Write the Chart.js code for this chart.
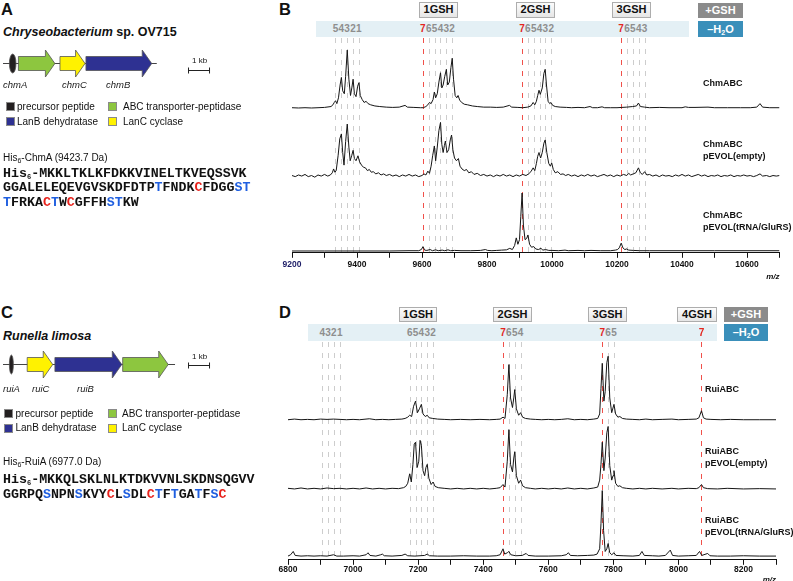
<!DOCTYPE html>
<html>
<head>
<meta charset="utf-8">
<script src="https://cdn.jsdelivr.net/npm/chart.js@4.4.1/dist/chart.umd.min.js"></script>
<style>
  body { margin: 0; }
  #fig { position: relative; width: 793px; height: 581px; overflow: hidden; background: #fff;
         font-family: "Liberation Sans", Arial, sans-serif; color: #111; }
  #fig div, #fig canvas { position: absolute; }
  .t { white-space: nowrap; line-height: 1; }
  .plab { font-weight: bold; font-size: 16.5px; }
  .org { font-weight: bold; font-size: 12.5px; }
  .gene { font-style: italic; font-size: 9.5px; color: #222; }
  .kb { font-size: 8px; }
  .leg { font-size: 10px; }
  .sw { width: 7px; height: 7px; border: 1px solid #8a8a8a; }
  .mass { font-size: 10px; }
  .mass sub, .seq sub { font-size: 7px; vertical-align: -2px; line-height: 0; }
  .seq { font-family: "Liberation Mono", "Courier New", monospace; font-weight: bold; font-size: 13.3px; }
  .b { color: #1f5fe0; } .r { color: #e8221c; }
  .box { border: 1px solid #adadad; background: linear-gradient(#fcfcfc, #e6e6e6); font-weight: bold;
         font-size: 11px; text-align: center; box-sizing: border-box; line-height: 13px; }
  .gsh { background: #8b8b8b; color: #fff; font-weight: bold; font-size: 11px; text-align: center; line-height: 15px; }
  .h2o { background: #3a8fba; color: #fff; font-weight: bold; font-size: 11px; text-align: center; line-height: 16px; }
  .h2o sub { font-size: 7px; vertical-align: -2px; line-height: 0; }
  .band { background: #e4f0f5; }
  .dig { font-weight: bold; font-size: 10px; color: #8e8e8e; transform: translateX(-50%); }
  .dig.red { color: #e3261f; }
  .lab { font-weight: bold; font-size: 9px; line-height: 11.5px; white-space: nowrap; }
</style>
</head>
<body>
<div id="fig">
  <!-- panel A -->
  <div class="t plab" style="left:1px;top:0.6px">A</div>
  <div class="t org" style="left:3px;top:26.3px"><i>Chryseobacterium</i> sp. OV715</div>
  <canvas id="gA" width="220" height="36" style="left:3px;top:45px"></canvas>
  <div class="t kb" style="left:192px;top:56.5px">1 kb</div>
  <div class="t gene" style="left:3px;top:80.3px">chmA</div>
  <div class="t gene" style="left:62px;top:80.3px">chmC</div>
  <div class="t gene" style="left:106px;top:80.3px">chmB</div>
  <div class="sw" style="left:6px;top:102px;background:#231f20"></div>
  <div class="t leg" style="left:17px;top:101.5px">precursor peptide</div>
  <div class="sw" style="left:108px;top:102px;background:#8dc63f"></div>
  <div class="t leg" style="left:123px;top:101.5px">ABC transporter-peptidase</div>
  <div class="sw" style="left:6px;top:117px;background:#2e3192"></div>
  <div class="t leg" style="left:17px;top:116.5px">LanB dehydratase</div>
  <div class="sw" style="left:108px;top:117px;background:#fff200"></div>
  <div class="t leg" style="left:123px;top:116.5px">LanC cyclase</div>
  <div class="t mass" style="left:3px;top:153.3px">His<sub>6</sub>-ChmA (9423.7 Da)</div>
  <div class="t seq" style="left:3px;top:166.7px">His<sub>6</sub>-MKKLTKLKFDKKVINELTKVEQSSVK</div>
  <div class="t seq" style="left:3px;top:180.9px">GGALELEQEVGVSKDFDTP<span class="b">T</span>FNDK<span class="r">C</span>FDGG<span class="b">ST</span></div>
  <div class="t seq" style="left:3px;top:195.9px"><span class="b">T</span>FRKA<span class="r">C</span><span class="b">T</span>W<span class="r">C</span>GFFH<span class="b">ST</span>KW</div>

  <!-- panel C -->
  <div class="t plab" style="left:1px;top:304.3px">C</div>
  <div class="t org" style="left:3px;top:330.1px"><i>Runella limosa</i></div>
  <canvas id="gC" width="220" height="36" style="left:3px;top:346px"></canvas>
  <div class="t kb" style="left:192px;top:353px">1 kb</div>
  <div class="t gene" style="left:3px;top:383.5px">ruiA</div>
  <div class="t gene" style="left:32px;top:383.5px">ruiC</div>
  <div class="t gene" style="left:77px;top:383.5px">ruiB</div>
  <div class="sw" style="left:4px;top:409px;background:#231f20"></div>
  <div class="t leg" style="left:15.5px;top:408.7px">precursor peptide</div>
  <div class="sw" style="left:108px;top:409px;background:#8dc63f"></div>
  <div class="t leg" style="left:122px;top:408.7px">ABC transporter-peptidase</div>
  <div class="sw" style="left:4px;top:423.5px;background:#2e3192"></div>
  <div class="t leg" style="left:15.5px;top:423px">LanB dehydratase</div>
  <div class="sw" style="left:108px;top:423.5px;background:#fff200"></div>
  <div class="t leg" style="left:122px;top:423px">LanC cyclase</div>
  <div class="t mass" style="left:3px;top:457px">His<sub>6</sub>-RuiA (6977.0 Da)</div>
  <div class="t seq" style="left:3px;top:473.4px">His<sub>6</sub>-MKKQLSKLNLKTDKVVNLSKDNSQGVV</div>
  <div class="t seq" style="left:3px;top:488.4px">GGRPQ<span class="b">S</span>NPN<span class="b">S</span>KVY<span class="r">C</span>L<span class="b">S</span>DL<span class="r">C</span><span class="b">T</span>F<span class="b">T</span>GA<span class="b">T</span>F<span class="b">S</span><span class="r">C</span></div>

  <!-- panel B headers -->
  <div class="t plab" style="left:279px;top:0.8px">B</div>
  <div class="box" style="left:419px;top:2px;width:39px;height:16px">1GSH</div>
  <div class="box" style="left:516px;top:2px;width:39px;height:16px">2GSH</div>
  <div class="box" style="left:612px;top:2px;width:39px;height:16px">3GSH</div>
  <div class="gsh" style="left:698px;top:3px;width:45px;height:15px">+GSH</div>
  <div class="band" style="left:316px;top:21px;width:373px;height:16px"></div>
  <div class="h2o" style="left:698px;top:21px;width:45px;height:16px">–H<sub>2</sub>O</div>
  <canvas id="chB" width="513" height="245" style="left:280px;top:36px"></canvas>
  <div class="lab" style="left:703px;top:78.3px">ChmABC</div>
  <div class="lab" style="left:703px;top:139.3px">ChmABC<br>pEVOL(empty)</div>
  <div class="lab" style="left:703px;top:210.3px">ChmABC<br>pEVOL(tRNA/GluRS)</div>

  <!-- panel D headers -->
  <div class="t plab" style="left:279px;top:303.8px">D</div>
  <div class="box" style="left:399px;top:307px;width:38px;height:15px;line-height:12px">1GSH</div>
  <div class="box" style="left:493px;top:307px;width:39px;height:15px;line-height:12px">2GSH</div>
  <div class="box" style="left:588px;top:307px;width:39px;height:15px;line-height:12px">3GSH</div>
  <div class="box" style="left:677px;top:307px;width:40px;height:15px;line-height:12px">4GSH</div>
  <div class="gsh" style="left:724px;top:307px;width:44px;height:15px">+GSH</div>
  <div class="band" style="left:308px;top:324px;width:409px;height:17px"></div>
  <div class="h2o" style="left:724px;top:324px;width:44px;height:17px;line-height:17px">–H<sub>2</sub>O</div>
  <canvas id="chD" width="517" height="244" style="left:276px;top:340px"></canvas>
  <div class="lab" style="left:705px;top:384.3px">RuiABC</div>
  <div class="lab" style="left:705px;top:446.3px">RuiABC<br>pEVOL(empty)</div>
  <div class="lab" style="left:705px;top:515.3px">RuiABC<br>pEVOL(tRNA/GluRS)</div>
</div>

<script>
Chart.defaults.font.family = '"Liberation Sans", Arial, sans-serif';
Chart.defaults.color = '#111';

// gene maps, kb from the left end of the drawn locus
const chmGeneStart = [0.29, 0.70, 2.59, 3.77];
const chmGeneEnd   = [0.59, 2.36, 3.73, 6.76];
const chmGeneRole  = ['pre', 'abc', 'lanc', 'lanb'];
const ruiGeneStart = [0.29, 1.10, 2.36, 5.44];
const ruiGeneEnd   = [0.47, 2.26, 5.40, 7.51];
const ruiGeneRole  = ['pre', 'lanc', 'lanb', 'abc'];

// H2O-loss / GSH-adduct marker lines (m/z) and the digit shown above each
const chmMarkMz = [9333.7, 9351.7, 9369.7, 9387.7, 9405.7,
                   9602.7, 9620.7, 9638.7, 9656.7, 9674.7, 9692.7,
                   9907.7, 9925.7, 9943.7, 9961.7, 9979.7, 9997.7,
                   10212.7, 10230.7, 10248.7, 10266.7, 10284.7];
const chmMarkLabel = ['5','4','3','2','1', '7','6','5','4','3','2', '7','6','5','4','3','2', '7','6','5','4','3'];
const ruiMarkMz = [6905, 6923, 6941, 6959,
                   7174, 7192, 7210, 7228, 7246,
                   7461, 7479, 7497, 7515,
                   7766, 7784, 7802,
                   8071];
const ruiMarkLabel = ['4','3','2','1', '6','5','4','3','2', '7','6','5','4', '7','6','5', '7'];

// MALDI-TOF traces, [m/z, relative intensity %]
const chmABC = [[9200,1],[9220,0.5],[9240,1],[9260,0.5],[9280,1],[9300,1.5],[9320,3],[9326,6],[9330,10],[9334,13],[9338,8],
  [9343,18],[9348,40],[9352,53],[9356,30],[9361,25],[9365,55],[9370,100],[9375,50],[9380,22],[9384,35],[9388,50],[9392,25],
  [9397,20],[9402,38],[9406,44],[9410,22],[9416,15],[9422,10],[9428,12],[9434,8],[9442,6],[9455,4],[9470,3],[9490,2],
  [9510,1.5],[9530,2],[9548,5],[9555,2],[9575,1.5],[9595,1],[9604,1],[9612,3],[9618,6],[9623,10],[9628,8],[9634,15],
  [9638,28],[9642,18],[9647,25],[9652,45],[9657,61],[9661,35],[9665,40],[9670,55],[9675,67],[9679,40],[9684,45],[9689,70],
  [9693,86],[9697,50],[9702,22],[9707,18],[9711,22],[9716,14],[9722,10],[9730,7],[9740,6],[9755,4],[9770,3],[9790,2],
  [9810,2],[9830,1.5],[9850,2],[9869,5],[9876,2],[9895,1.5],[9910,1],[9925,2],[9935,4],[9942,10],[9947,6],[9952,12],
  [9956,22],[9960,31],[9964,24],[9970,35],[9975,60],[9979,67],[9983,40],[9988,12],[9993,8],[9997,10],[10002,5],[10010,3],
  [10025,2],[10045,1.5],[10060,1],[10080,1.5],[10100,1],[10117,3],[10125,1],[10140,1],[10154,2.5],[10162,1],[10180,1],
  [10200,1],[10215,1.5],[10230,2],[10248,3],[10260,4],[10266,9],[10272,3],[10285,2],[10300,1],[10330,1.5],[10360,1],
  [10400,1],[10410,2.5],[10420,1.5],[10440,1.5],[10480,2],[10500,1],[10540,1],[10580,1],[10610,1],[10630,2],[10640,8],
  [10648,2],[10670,1],[10700,1]];
const chmEmpty = [[9200,3],[9210,1],[9220,4],[9230,2],[9240,5],[9250,1],[9260,3],[9270,0],[9280,4],[9290,2],[9300,5],
  [9310,2],[9318,4],[9324,8],[9328,15],[9332,9],[9336,12],[9342,40],[9347,70],[9352,79],[9356,45],[9360,22],[9365,65],
  [9370,97],[9375,55],[9379,30],[9384,40],[9388,49],[9392,34],[9397,30],[9403,39],[9408,28],[9414,22],[9420,18],[9426,17],
  [9432,12],[9438,14],[9444,9],[9450,10],[9458,6],[9466,8],[9474,4],[9482,6],[9490,3],[9500,5],[9510,2],[9520,4],[9530,1],
  [9540,4],[9550,2],[9560,5],[9570,2],[9580,4],[9590,1],[9600,3],[9606,6],[9612,4],[9618,11],[9623,7],[9628,20],[9633,40],
  [9638,57],[9642,30],[9647,55],[9652,85],[9657,100],[9661,60],[9665,45],[9669,58],[9672,66],[9677,45],[9682,50],[9687,68],
  [9691,77],[9695,50],[9700,35],[9706,30],[9712,34],[9717,20],[9723,15],[9730,12],[9737,14],[9744,8],[9752,10],[9760,5],
  [9770,7],[9780,3],[9790,5],[9800,2],[9810,4],[9820,1],[9830,4],[9840,2],[9850,5],[9860,2],[9870,4],[9880,1],[9890,4],
  [9900,2],[9910,5],[9920,3],[9928,6],[9935,10],[9942,17],[9947,12],[9952,25],[9956,38],[9960,45],[9965,35],[9970,45],
  [9975,62],[9979,68],[9984,45],[9990,25],[9995,20],[9999,26],[10004,14],[10010,8],[10018,10],[10026,5],[10034,6],
  [10042,3],[10050,5],[10060,2],[10070,4],[10080,1],[10090,4],[10100,2],[10110,5],[10120,2],[10130,4],[10140,1],[10150,3],
  [10160,5],[10170,2],[10180,4],[10190,1],[10200,4],[10210,2],[10220,5],[10230,3],[10236,7],[10242,4],[10250,6],[10258,8],
  [10266,17],[10272,8],[10278,5],[10285,10],[10292,4],[10300,5],[10310,2],[10320,4],[10330,1],[10340,4],[10350,2],
  [10360,3],[10370,1],[10380,4],[10390,2],[10400,5],[10410,2],[10420,4],[10430,1],[10440,3],[10450,5],[10460,2],[10470,4],
  [10480,1],[10490,3],[10500,2],[10510,4],[10520,1],[10530,3],[10540,2],[10550,4],[10560,1],[10570,3],[10580,2],[10590,4],
  [10600,2],[10610,3],[10620,1],[10630,3],[10640,6],[10648,2],[10660,3],[10670,1],[10680,3],[10690,2],[10700,3]];
const chmGlu = [[9200,0.5],[9300,0.5],[9400,0.5],[9500,0.5],[9560,1],[9590,1],[9598,3],[9603,8],[9608,2],[9615,1.5],
  [9625,3],[9632,1],[9642,2.5],[9650,1],[9662,2],[9670,1],[9680,2.5],[9688,1],[9700,1.5],[9720,1],[9750,1],[9780,1.5],
  [9795,3],[9802,1.5],[9815,1],[9830,1.5],[9845,2],[9860,2.5],[9870,5],[9878,3],[9885,10],[9890,23],[9895,12],[9900,20],
  [9904,60],[9908,100],[9912,45],[9917,20],[9922,22],[9926,28],[9931,12],[9937,7],[9944,8],[9950,4],[9958,3],[9966,5],
  [9972,2],[9980,3],[9990,1.5],[10000,1.5],[10020,1],[10040,2],[10050,1],[10080,1.5],[10100,1],[10120,1.5],[10150,1],
  [10180,1],[10195,2],[10202,3],[10207,6],[10213,14],[10218,6],[10224,3],[10230,4],[10236,2],[10250,1.5],[10270,1],
  [10300,1],[10400,1],[10500,1],[10600,1],[10700,1]];

const ruiABC = [[6800,1],[6820,2],[6840,1],[6860,1.5],[6880,1],[6900,2],[6920,1.5],[6940,2],[6960,1.5],[6980,1],[7000,1.5],
  [7020,1],[7050,2.5],[7070,1],[7090,1.5],[7110,1],[7130,1.5],[7150,2],[7160,3],[7168,5],[7174,8],[7180,6],[7186,22],
  [7192,30],[7198,12],[7204,18],[7210,25],[7215,10],[7222,6],[7228,8],[7234,4],[7245,3],[7260,2],[7280,1.5],[7300,1],
  [7330,1.5],[7360,1],[7390,1.5],[7420,1],[7440,1.5],[7452,2],[7461,5],[7467,3],[7474,40],[7479,87],[7484,35],[7490,20],
  [7494,35],[7497,48],[7502,18],[7509,8],[7515,12],[7521,5],[7530,3],[7545,2],[7560,1.5],[7580,1],[7600,1.5],[7620,1],
  [7640,1.5],[7660,2.5],[7680,1],[7700,1.5],[7720,1],[7740,2],[7752,3],[7758,10],[7762,50],[7766,89],[7771,30],[7775,45],
  [7780,90],[7784,100],[7789,35],[7795,12],[7802,25],[7807,10],[7814,5],[7820,6],[7828,3],[7840,2],[7860,1.5],[7880,1],
  [7900,2],[7920,1],[7950,1.5],[7980,2],[8000,1],[8030,1.5],[8055,2],[8063,4],[8071,15],[8077,4],[8085,2],[8100,1.5],
  [8130,1],[8160,1.5],[8200,1],[8250,1],[8300,1]];
const ruiEmpty = [[6800,2],[6820,1],[6840,2.5],[6860,1],[6880,2],[6900,1],[6920,2.5],[6940,1.5],[6960,2],[6980,1],[7000,2],
  [7020,1],[7040,2.5],[7060,1],[7080,2],[7100,1],[7120,2],[7140,1.5],[7155,3],[7162,5],[7168,10],[7174,25],[7179,12],
  [7184,40],[7188,72],[7192,75],[7197,35],[7202,45],[7206,78],[7210,70],[7215,30],[7220,22],[7224,35],[7228,40],[7233,18],
  [7240,8],[7246,12],[7252,5],[7262,3],[7280,2],[7300,1],[7320,2],[7340,1],[7360,2],[7380,1],[7400,2],[7420,1],[7440,2],
  [7452,3],[7461,8],[7467,4],[7474,45],[7479,95],[7484,40],[7490,28],[7494,50],[7497,60],[7502,22],[7509,10],[7515,15],
  [7521,6],[7530,3],[7545,2],[7560,1],[7580,2],[7600,1],[7620,2],[7640,1],[7660,2.5],[7680,1],[7700,2],[7720,1],
  [7740,2.5],[7752,4],[7758,15],[7762,40],[7766,75],[7771,30],[7775,50],[7780,90],[7784,100],[7789,38],[7795,15],
  [7799,22],[7802,30],[7807,10],[7814,5],[7820,6],[7828,3],[7840,2],[7860,1],[7880,2],[7900,1],[7920,2],[7950,1],
  [7980,2],[8000,1],[8030,2],[8055,1.5],[8063,3],[8071,8],[8077,3],[8090,1.5],[8120,1],[8150,2],[8200,1],[8250,1.5],
  [8300,1]];
const ruiGlu = [[6800,1],[6808,3],[6816,8],[6822,2],[6840,1],[6860,1.5],[6880,1],[6900,1.5],[6920,1],[6940,3],[6950,1],
  [6970,1],[7000,1.5],[7020,1],[7040,3],[7046,6],[7052,2],[7070,1],[7085,3],[7090,4],[7096,1.5],[7120,1],[7150,2],
  [7160,4],[7168,1.5],[7190,1],[7220,2],[7228,4],[7235,1.5],[7260,1],[7300,1],[7340,1.5],[7380,1],[7420,1],[7440,1.5],
  [7452,3],[7461,12],[7466,4],[7474,6],[7479,8],[7485,3],[7500,1.5],[7520,2],[7532,5],[7538,2],[7560,1],[7600,1],
  [7640,1.5],[7655,3],[7662,6],[7668,2],[7690,1.5],[7720,2],[7740,2.5],[7750,4],[7758,12],[7762,50],[7766,100],[7770,40],
  [7775,8],[7780,12],[7784,20],[7789,6],[7795,3],[7802,6],[7808,2],[7830,1.5],[7860,1],[7880,2],[7888,8],[7895,2],
  [7920,1.5],[7940,1],[7960,2],[7975,10],[7982,2],[8000,1],[8030,1.5],[8055,2],[8065,8],[8072,2],[8090,5],[8097,1.5],
  [8120,1],[8160,1],[8200,1.5],[8250,1],[8300,1]];

// ---------- gene maps ----------
const geneColor = { pre: '#231f20', abc: '#8dc63f', lanb: '#2e3192', lanc: '#fff200' };

function geneMap(starts, ends, roles, lineEnd, barStart, barDy) {
  return {
    id: 'geneMap',
    afterDraw(chart) {
      const { ctx, chartArea, scales: { x } } = chart;
      const cy = Math.round((chartArea.top + chartArea.bottom) / 2);
      ctx.save();
      ctx.strokeStyle = '#444';
      ctx.lineWidth = 1;
      ctx.beginPath();
      ctx.moveTo(x.getPixelForValue(0), cy + 0.5);
      ctx.lineTo(x.getPixelForValue(lineEnd), cy + 0.5);
      ctx.stroke();
      starts.forEach((s, i) => {
        const x0 = x.getPixelForValue(s), x1 = x.getPixelForValue(ends[i]);
        ctx.beginPath();
        if (roles[i] === 'pre') {
          ctx.ellipse((x0 + x1) / 2, cy + 0.5, (x1 - x0) / 2, 9.5, 0, 0, Math.PI * 2);
        } else {
          const hl = 9.5, bh = 6.5, hh = 13;
          ctx.moveTo(x0, cy - bh); ctx.lineTo(x1 - hl, cy - bh); ctx.lineTo(x1 - hl, cy - hh);
          ctx.lineTo(x1, cy + 0.5); ctx.lineTo(x1 - hl, cy + hh + 1); ctx.lineTo(x1 - hl, cy + bh + 1);
          ctx.lineTo(x0, cy + bh + 1); ctx.closePath();
        }
        ctx.fillStyle = geneColor[roles[i]];
        ctx.fill();
        ctx.strokeStyle = '#555';
        ctx.lineWidth = 0.8;
        ctx.stroke();
      });
      const b0 = x.getPixelForValue(barStart), b1 = x.getPixelForValue(barStart + 1), by = cy + barDy + 0.5;
      ctx.strokeStyle = '#222';
      ctx.lineWidth = 1;
      ctx.beginPath();
      ctx.moveTo(b0, by); ctx.lineTo(b1, by);
      ctx.moveTo(b0 + 0.5, by - 3); ctx.lineTo(b0 + 0.5, by + 3);
      ctx.moveTo(b1 - 0.5, by - 3); ctx.lineTo(b1 - 0.5, by + 3);
      ctx.stroke();
      ctx.restore();
    }
  };
}

function geneChart(id, plugin) {
  return new Chart(document.getElementById(id), {
    type: 'line',
    data: { datasets: [] },
    options: {
      responsive: false, animation: false,
      layout: { padding: 0 },
      plugins: { legend: { display: false }, tooltip: { enabled: false } },
      scales: {
        x: { type: 'linear', display: false, min: 0, max: 10 },
        y: { display: false, min: -1, max: 1 }
      }
    },
    plugins: [plugin]
  });
}

geneChart('gA', geneMap(chmGeneStart, chmGeneEnd, chmGeneRole, 6.99, 8.41, 7));
geneChart('gC', geneMap(ruiGeneStart, ruiGeneEnd, ruiGeneRole, 7.82, 8.41, 1));

// ---------- spectra ----------
function markLines(mz, labels) {
  return {
    id: 'markLines',
    beforeDatasetsDraw(chart) {
      const { ctx, chartArea, scales: { x } } = chart;
      ctx.save();
      ctx.lineWidth = 1;
      ctx.setLineDash([5, 6]);
      mz.forEach((m, i) => {
        const px = Math.round(x.getPixelForValue(m)) + 0.5;
        ctx.strokeStyle = labels[i] === '7' ? '#f0504a' : '#cdcdcd';
        ctx.beginPath();
        ctx.moveTo(px, chartArea.top);
        ctx.lineTo(px, chartArea.bottom);
        ctx.stroke();
      });
      ctx.restore();
    }
  };
}

// trace baseline `fromTop` px below the plot top, 100 % = `unit` px, plot height `h`
function lane(fromTop, unit, h) {
  const base = (h - fromTop) / h, u = unit / h;
  return { display: false, min: -100 * base / u, max: 100 * (1 - base) / u };
}

const pts = a => a.map(([x, y]) => ({ x, y }));

function spectrum(id, traces, xMin, xMax, lanes, padding, tickPad, marks) {
  return new Chart(document.getElementById(id), {
    type: 'line',
    data: {
      datasets: traces.map((t, i) => ({
        data: pts(t), yAxisID: 'y' + (i + 1),
        borderColor: '#161616', borderWidth: 1, pointRadius: 0, tension: 0
      }))
    },
    options: {
      responsive: false, animation: false,
      layout: { padding },
      plugins: { legend: { display: false }, tooltip: { enabled: false } },
      scales: {
        x: {
          type: 'linear', min: xMin, max: xMax,
          grid: { display: true, drawOnChartArea: false, drawTicks: true, tickLength: 5, color: '#111', lineWidth: 1 },
          border: { display: true, color: '#111', width: 1 },
          ticks: {
            stepSize: 100, autoSkip: false, maxRotation: 0, padding: tickPad,
            font: { size: 8.5, weight: 'bold' },
            color: c => (c.index === 0 && xMin === 9200) ? '#1c1c66' : '#111',
            callback: v => (v % 200 === 0 ? String(v) : '')
          },
          title: { display: true, text: 'm/z', align: 'end', padding: { top: 1, bottom: 0 },
                   font: { size: 8, style: 'italic', weight: 'bold', lineHeight: 1 } }
        },
        y1: lanes[0], y2: lanes[1], y3: lanes[2]
      }
    },
    plugins: [markLines(marks.mz, marks.labels)]
  });
}

function placeDigits(chart, canvasLeft, cy, mz, labels) {
  const fig = document.getElementById('fig');
  mz.forEach((m, i) => {
    const d = document.createElement('div');
    d.className = 't dig' + (labels[i] === '7' ? ' red' : '');
    d.textContent = labels[i];
    d.style.left = (canvasLeft + chart.scales.x.getPixelForValue(m)) + 'px';
    d.style.top = (cy - 5) + 'px';
    fig.appendChild(d);
  });
}

const chB = spectrum('chB', [chmABC, chmEmpty, chmGlu], 9200, 10700,
  [lane(69.7, 57.7, 213), lane(138, 54.3, 213), lane(211.5, 57.8, 213)],
  { left: 12, right: 13.5, top: 2, bottom: 0 }, 2,
  { mz: chmMarkMz, labels: chmMarkLabel });
placeDigits(chB, 280, 29, chmMarkMz, chmMarkLabel);

const chD = spectrum('chD', [ruiABC, ruiEmpty, ruiGlu], 6800, 8300,
  [lane(77, 63, 214), lane(145, 62, 214), lane(211, 65, 214)],
  { left: 12, right: 17, top: 2, bottom: 0 }, 0,
  { mz: ruiMarkMz, labels: ruiMarkLabel });
placeDigits(chD, 276, 332.7, ruiMarkMz, ruiMarkLabel);
</script>
</body>
</html>
